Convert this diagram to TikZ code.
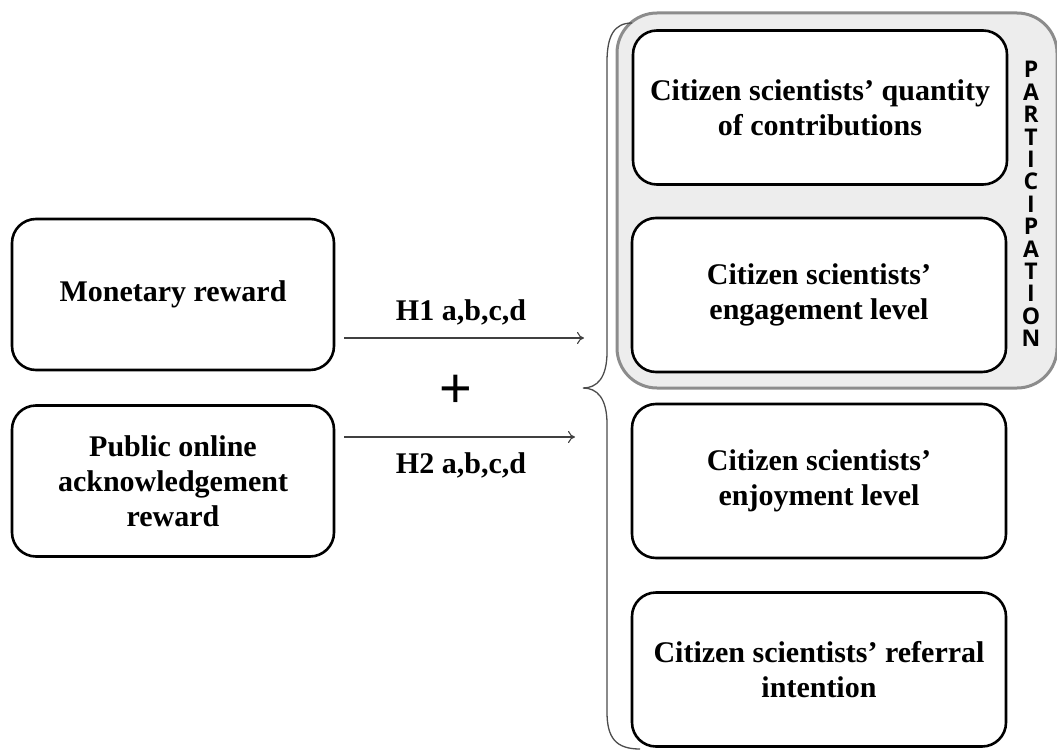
\documentclass[tikz,border=0pt]{standalone}
\usepackage{fontspec}
\setmainfont{Liberation Serif}
\newfontfamily\partfont{Open Sans}
\newfontfamily\plusfont{Liberation Sans}
\usetikzlibrary{arrows.meta}
\begin{document}
\begin{tikzpicture}[x=1pt,y=-1pt,
  varbox/.style={draw=black, line width=2.6pt, rounded corners=24pt, fill=white,
    align=center, font=\fontsize{30}{35}\selectfont\bfseries, inner sep=0pt},
  leftbox/.style={varbox, minimum width=322pt, minimum height=151pt},
  rightbox/.style={varbox, minimum width=374pt, minimum height=154pt},
  hyparrow/.style={draw=black!75, line width=1.3pt, -{To[length=7pt,width=12pt,line width=1.1pt]}},
  hyplabel/.style={font=\fontsize{30}{34}\selectfont\bfseries},
]
\useasboundingbox (0,0) rectangle (1057,752);
% participation group
\node[draw=black!45, line width=3pt, fill=black!7, rounded corners=40pt,
  minimum width=440pt, minimum height=375pt, inner sep=0pt] (part) at (837,200.5) {};
\node[font=\partfont\bfseries\fontsize{23}{22.4}\selectfont, align=center, inner sep=0pt]
  (partlabel) at (1031,204) {P\\A\\R\\T\\I\\C\\I\\P\\A\\T\\I\\O\\N};
% left boxes
\node[leftbox] (mon) at (173,294.5) {Monetary reward};
\node[leftbox] (pub) at (173,481) {Public online\\acknowledgement\\reward};
% right boxes
\node[rightbox] (qty) at (820,107.5) {Citizen scientists' quantity\\of contributions};
\node[rightbox] (eng) at (819,295) {Citizen scientists'\\engagement level};
\node[rightbox] (enj) at (819,481) {Citizen scientists'\\enjoyment level};
\node[rightbox] (ref) at (819,669.5) {Citizen scientists' referral\\intention};
% brace
\coordinate (btop) at (632,23);
\coordinate (btip) at (583,388);
\coordinate (bbot) at (640,749);
\draw[black!70, line width=1.3pt] (btop) .. controls (614,23) and (607,36) .. (607,62)
  -- (607,352) .. controls (607,378) and (597,388) .. (btip)
  .. controls (597,388) and (607,398) .. (607,424)
  -- (607,712) .. controls (607,738) and (616,749) .. (bbot);
% arrows
\coordinate (a1s) at (344,338);
\coordinate (a1e) at (584,338);
\coordinate (a2s) at (344,437);
\coordinate (a2e) at (575,437);
\draw[hyparrow] (a1s) -- (a1e);
\draw[hyparrow] (a2s) -- (a2e);
\node[hyplabel] (h1) at (461,312) {H1 a,b,c,d};
\node[hyplabel] (h2) at (461,465) {H2 a,b,c,d};
\node[font=\plusfont\fontsize{56}{56}\selectfont, inner sep=0pt] (plus) at (456,391) {+};
\end{tikzpicture}
\end{document}
